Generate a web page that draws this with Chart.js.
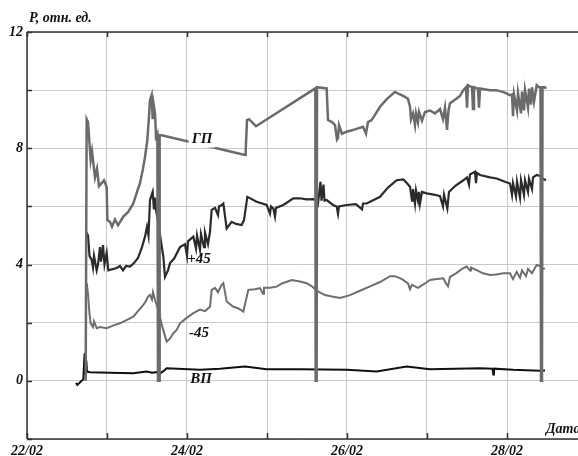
<!DOCTYPE html>
<html>
<head>
<meta charset="utf-8">
<script src="https://cdn.jsdelivr.net/npm/chart.js@4/dist/chart.umd.min.js"></script>
<style>
  html, body { margin: 0; padding: 0; background: #fff; }
  #c { display: block; }
</style>
</head>
<body>
<canvas id="c" width="578" height="456"></canvas>
<script>
// Time axis: hours since 22/02 00:00; values in relative units (отн. ед.)
const dayTicks = [0, 24, 48, 72, 96, 120, 144];
const dayLabels = ['22/02', '', '24/02', '', '26/02', '', '28/02'];
const yTicks = [-2, 0, 2, 4, 6, 8, 10, 12];
const yLabels = ['', '0', '', '4', '', '8', '', '12'];

// ГП
const gpHours = [17.6, 17.9, 18.3, 19.1, 19.5, 20.4, 21.0, 21.6, 22.4, 23.1, 23.9, 24.1, 24.9, 25.5, 26.4, 27.3,
  28.9, 30.3, 31.9, 33.0, 33.9, 34.8, 35.4, 36.1, 36.6, 36.9, 37.4, 37.7, 38.0, 38.4, 38.7, 39.1, 39.3, 39.6, 39.8,
  40.4, 65.4, 65.6, 66.0, 66.6, 68.7, 86.5, 86.6, 86.9, 87.0, 89.9, 90.3, 91.5, 92.4, 93.0, 93.3, 93.6, 94.5, 95.9,
  98.4, 100.8, 101.7, 102.3, 103.4, 104.1, 105.9, 108.0, 110.4, 111.9, 113.4, 114.3, 114.9, 115.2, 115.8, 116.4,
  116.7, 117.3, 117.6, 118.5, 119.4, 120.9, 122.4, 123.9, 124.8, 125.4, 126.0, 126.45, 126.9, 128.9, 129.9, 130.9,
  131.7, 132.0, 132.3, 133.5, 133.8, 134.1, 135.3, 135.6, 135.9, 138.9, 140.7, 142.8, 144.9, 145.5, 145.8, 146.1,
  147.0, 147.3, 148.2, 148.5, 149.1, 149.4, 150.3, 150.6, 151.2, 151.5, 152.1, 152.9, 153.6, 154.05, 154.2, 154.5,
  154.65, 155.4, 155.7];
const gpValues = [0, 9.0, 8.9, 7.6, 7.9, 7.0, 7.3, 6.7, 6.8, 6.9, 6.67, 5.53, 5.47, 5.3, 5.55, 5.35,
  5.65, 5.8, 6.1, 6.5, 6.8, 7.3, 7.7, 8.28, 9.1, 9.66, 9.83, 9.0, 9.5, 9.2, 8.4, 8.5, 0, 0, 8.45,
  8.45, 7.77, 7.9, 8.97, 9.0, 8.76, 10.06, 0, 0, 10.1, 10.06, 8.97, 8.9, 8.8, 8.3, 8.35, 8.8, 8.5, 8.57,
  8.65, 8.74, 8.5, 8.9, 8.97, 9.1, 9.43, 9.7, 9.94, 9.85, 9.77, 9.7, 9.43, 9.0, 9.2, 8.8,
  9.2, 8.9, 9.25, 8.95, 9.25, 9.3, 9.2, 9.35, 9.0, 9.4, 8.63, 9.3, 9.55, 9.71, 9.8, 10.0,
  10.1, 9.4, 10.17, 10.1, 9.35, 10.1, 10.05, 9.4, 10.06, 10.0, 10.0, 9.94, 9.83, 9.85, 9.1, 9.85,
  9.3, 9.9, 9.2, 9.95, 9.3, 10.0, 9.4, 10.05, 9.5, 10.1, 9.6, 10.17, 10.1, 10.1, 0, 0,
  10.1, 10.1, 10.05];

// +45
const p45Hours = [17.9, 18.3, 18.75, 19.4, 19.8, 20.1, 20.9, 21.3, 21.9, 22.2, 22.8, 23.25, 23.9, 24.4, 26.9, 27.9,
  28.8, 29.7, 30.9, 32.1, 33.3, 34.5, 35.4, 36.0, 36.45, 36.9, 37.7, 38.1, 38.4, 38.7, 39.4, 40.2, 40.9, 41.4, 41.6,
  42.3, 42.9, 44.1, 45.9, 47.4, 48.0, 48.3, 49.9, 50.7, 51.0, 51.9, 52.2, 53.1, 53.4, 54.3, 54.9, 55.4, 56.4, 57.3,
  57.6, 58.4, 58.9, 59.9, 61.4, 62.7, 64.4, 65.1, 66.1, 68.9, 71.9, 72.9, 73.2, 73.9, 74.4, 74.7, 76.9, 79.9, 81.9,
  83.9, 85.8, 86.9, 87.3, 88.05, 88.35, 88.95, 89.25, 89.9, 91.8, 92.9, 93.3, 93.6, 95.9, 98.7, 100.5, 100.8, 101.9,
  105.9, 108.3, 110.9, 112.9, 114.0, 114.9, 115.5, 115.8, 116.4, 116.7, 117.3, 117.6, 117.9, 118.5, 119.9, 122.4,
  123.9, 124.8, 125.1, 126.1, 126.6, 128.4, 130.9, 132.0, 132.6, 132.9, 134.4, 134.7, 135.0, 135.9, 138.9, 140.9,
  143.4, 144.9, 145.5, 145.8, 146.7, 147.0, 147.9, 148.2, 149.1, 149.4, 150.3, 150.6, 151.5, 151.8, 152.9, 153.9,
  154.8, 155.7];
const p45Values = [5.1, 5.0, 4.3, 4.16, 3.9, 4.3, 3.8, 4.0, 4.6, 4.1, 4.67, 4.0, 4.4, 3.8, 3.88, 3.95,
  3.8, 3.95, 3.93, 4.05, 4.23, 4.6, 4.96, 5.3, 5.0, 6.22, 6.5, 5.9, 6.3, 5.88, 5.43, 4.8, 4.27, 3.58, 3.58,
  3.8, 4.05, 4.2, 4.6, 4.7, 4.3, 4.8, 4.96, 4.55, 5.0, 4.5, 5.05, 4.6, 5.1, 4.7, 5.13, 5.88, 5.95, 5.7,
  6.0, 6.05, 6.1, 5.24, 5.47, 5.4, 5.36, 5.53, 6.33, 6.16, 6.05, 5.75, 6.0, 5.93, 5.65, 5.95, 6.05, 6.28, 6.28,
  6.24, 6.25, 6.22, 6.1, 6.85, 6.2, 6.75, 6.2, 6.22, 6.05, 6.0, 5.75, 6.0, 6.05, 6.08, 5.9, 6.1, 6.1,
  6.33, 6.65, 6.9, 6.93, 6.8, 6.68, 6.2, 6.6, 6.1, 6.55, 6.2, 6.5, 6.1, 6.5, 6.45, 6.4,
  6.35, 6.0, 6.4, 5.93, 6.5, 6.7, 6.9, 7.0, 6.75, 7.1, 7.19, 6.8, 7.15, 7.08, 7.0, 6.96,
  6.85, 6.79, 6.4, 6.8, 6.35, 6.85, 6.3, 6.9, 6.4, 6.9, 6.5, 6.95, 6.6, 7.0, 7.08, 7.05,
  6.95, 6.9];

// -45
const m45Hours = [17.9, 18.3, 18.75, 19.1, 19.8, 20.1, 20.9, 21.9, 23.9, 25.8, 27.9, 30.0, 31.9, 33.3, 34.9, 35.7,
  36.3, 36.9, 37.5, 37.8, 38.4, 39.4, 40.5, 41.9, 42.9, 43.9, 44.9, 45.9, 47.7, 49.9, 51.9, 53.4, 54.9, 55.4, 56.4,
  57.3, 58.4, 58.9, 59.9, 61.9, 63.3, 64.9, 66.4, 68.4, 69.9, 70.8, 71.1, 72.9, 74.9, 76.5, 79.4, 81.9, 83.9, 85.5,
  87.4, 89.4, 91.5, 93.9, 96.9, 99.9, 102.9, 105.9, 108.9, 110.4, 112.5, 114.3, 114.9, 115.5, 117.3, 119.4, 120.9,
  123.0, 124.9, 125.7, 126.3, 126.9, 128.7, 130.5, 131.9, 132.9, 133.2, 134.9, 136.8, 138.9, 140.7, 142.9, 144.9,
  145.8, 146.9, 147.9, 148.5, 149.7, 150.3, 151.5, 152.9, 153.9, 154.8, 155.4];
const m45Values = [3.36, 3.0, 2.3, 1.98, 1.85, 2.05, 1.81, 1.85, 1.81, 1.9, 1.98, 2.1, 2.21, 2.4, 2.61, 2.75,
  2.9, 2.96, 2.8, 3.05, 2.78, 2.44, 1.9, 1.35, 1.45, 1.64, 1.75, 1.98, 2.15, 2.33, 2.45, 2.4, 2.55, 3.13, 3.2,
  3.05, 3.3, 3.36, 2.73, 2.55, 2.5, 2.38, 3.13, 3.15, 3.19, 3.0, 3.2, 3.2, 3.24, 3.35, 3.47, 3.42, 3.36, 3.25,
  3.07, 2.95, 2.9, 2.85, 2.95, 3.1, 3.25, 3.4, 3.6, 3.6, 3.5, 3.35, 3.15, 3.3, 3.2, 3.35, 3.47,
  3.5, 3.53, 3.35, 3.25, 3.58, 3.7, 3.85, 3.93, 3.8, 3.9, 3.81, 3.7, 3.64, 3.66, 3.7, 3.7,
  3.5, 3.75, 3.55, 3.8, 3.6, 3.85, 3.7, 3.99, 3.95, 3.85, 3.87];

// ВП
const vpHours = [14.7, 15.1, 16.4, 16.9, 17.25, 17.4, 17.6, 17.8, 18.0, 18.9, 24.9, 31.9, 35.9, 37.5, 38.9, 39.9,
  41.1, 41.9, 51.9, 57.9, 65.4, 71.9, 81.9, 95.9, 104.9, 113.9, 120.9, 135.9, 139.65, 139.9, 140.1, 145.8, 153.9, 155.4];
const vpValues = [-0.07, -0.14, 0, 0.05, 0.9, 0.96, 0.2, 0.7, 0.32, 0.3, 0.28, 0.26, 0.32, 0.28, 0.3, 0.25,
  0.35, 0.43, 0.38, 0.42, 0.49, 0.4, 0.4, 0.38, 0.32, 0.49, 0.4, 0.43, 0.42, 0.22, 0.42, 0.38, 0.35, 0.36];

const toPoints = (xs, ys) => xs.map((x, i) => ({ x: x, y: ys[i] }));

const SERIF = "'Liberation Serif', 'Times New Roman', serif";
const labelFont = { family: SERIF, size: 14, style: 'italic', weight: 'bold' };

// Series captions placed next to their curves (data coordinates: hours, value)
const captions = [
  { text: 'ГП', x: 52.5, y: 8.3, box: true },
  { text: '+45', x: 51.6, y: 4.2, box: false },
  { text: '-45', x: 51.6, y: 1.65, box: false },
  { text: 'ВП', x: 52.2, y: 0.06, box: false }
];

const decor = {
  id: 'decor',
  afterDraw(chart) {
    const ctx = chart.ctx;
    const a = chart.chartArea;
    const xs = chart.scales.x, ys = chart.scales.y;
    ctx.save();
    // frame: left, bottom and top lines
    ctx.strokeStyle = '#333';
    ctx.lineWidth = 1.5;
    ctx.beginPath();
    ctx.moveTo(a.left, a.top); ctx.lineTo(a.left, a.bottom);
    ctx.moveTo(a.left, a.bottom); ctx.lineTo(a.right, a.bottom);
    ctx.moveTo(a.left, a.top); ctx.lineTo(a.right, a.top);
    ctx.stroke();
    // inward tick marks
    ctx.lineWidth = 1.5;
    ctx.beginPath();
    yTicks.forEach(v => {
      const py = Math.round(ys.getPixelForValue(v)) + 0.5;
      ctx.moveTo(a.left, py); ctx.lineTo(a.left + 5, py);
    });
    dayTicks.forEach(v => {
      const px = Math.round(xs.getPixelForValue(v)) + 0.5;
      ctx.moveTo(px, a.bottom); ctx.lineTo(px, a.bottom - 6);
      ctx.moveTo(px, a.top); ctx.lineTo(px, a.top + 5);
    });
    ctx.stroke();

    // curve captions
    ctx.font = 'italic bold 15px ' + SERIF;
    ctx.textAlign = 'center';
    ctx.textBaseline = 'middle';
    captions.forEach(c => {
      const px = xs.getPixelForValue(c.x);
      const py = ys.getPixelForValue(c.y);
      if (c.box) {
        const w = ctx.measureText(c.text).width;
        ctx.fillStyle = '#fff';
        ctx.fillRect(px - w / 2 - 3, py - 8, w + 6, 16);
      }
      ctx.fillStyle = '#111';
      ctx.fillText(c.text, px, py);
    });

    // axis titles
    ctx.textAlign = 'left';
    ctx.textBaseline = 'alphabetic';
    ctx.font = 'italic bold 14px ' + SERIF;
    ctx.fillText('P, отн. ед.', 29, 22);
    ctx.fillText('Дата', 546, 433);
    ctx.restore();
  }
};

new Chart(document.getElementById('c'), {
  type: 'line',
  data: {
    datasets: [
      { label: 'ГП', data: toPoints(gpHours, gpValues), borderColor: '#6b6b6b', borderWidth: 2.5 },
      { label: 'ВП', data: toPoints(vpHours, vpValues), borderColor: '#111', borderWidth: 2 },
      { label: '+45', data: toPoints(p45Hours, p45Values), borderColor: '#2b2b2b', borderWidth: 2.2 },
      { label: '-45', data: toPoints(m45Hours, m45Values), borderColor: '#6e6e6e', borderWidth: 2 }
    ]
  },
  options: {
    responsive: false,
    animation: false,
    devicePixelRatio: 1,
    layout: { padding: { top: 32, right: 0, left: 0, bottom: 0 } },
    elements: {
      point: { radius: 0 },
      line: { tension: 0, borderJoinStyle: 'miter', fill: false }
    },
    plugins: { legend: { display: false }, tooltip: { enabled: false } },
    scales: {
      x: {
        type: 'linear',
        min: 0,
        max: 165.3,
        afterFit: s => { s.height = 17; s.paddingLeft = 0; s.paddingRight = 0; },
        afterBuildTicks: s => { s.ticks = dayTicks.map(v => ({ value: v })); },
        ticks: {
          autoSkip: false,
          maxRotation: 0,
          padding: 4,
          color: '#111',
          font: labelFont,
          callback: (v) => { const i = dayTicks.indexOf(v); return i >= 0 ? dayLabels[i] : ''; }
        },
        grid: { color: '#c9c9c9', lineWidth: 1, drawTicks: false },
        border: { display: false }
      },
      y: {
        min: -2,
        max: 12,
        afterFit: s => { s.width = 27; },
        afterBuildTicks: s => { s.ticks = yTicks.map(v => ({ value: v })); },
        ticks: {
          autoSkip: false,
          padding: 4,
          color: '#111',
          font: labelFont,
          callback: (v) => { const i = yTicks.indexOf(v); return i >= 0 ? yLabels[i] : ''; }
        },
        grid: { color: '#c9c9c9', lineWidth: 1, drawTicks: false },
        border: { display: false }
      }
    }
  },
  plugins: [decor]
});
</script>
</body>
</html>
